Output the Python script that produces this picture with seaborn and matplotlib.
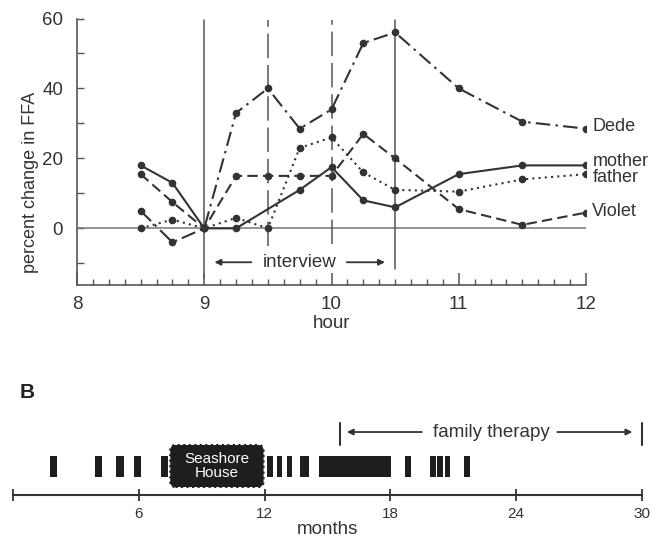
import numpy as np
import pandas as pd
import matplotlib
matplotlib.use("Agg")
import matplotlib.pyplot as plt
import seaborn as sns
from matplotlib.patches import FancyBboxPatch
from matplotlib.ticker import MultipleLocator, FixedLocator

# ---------------- data (panel A) ----------------
hours = [8.5, 8.75, 9.0, 9.25, 9.5, 9.75, 10.0, 10.25, 10.5, 11.0, 11.5, 12.0]
dede = [5, -4, 0, 33, 40, 28.5, 34, 53, 56, 40, 30.5, 28.5]
violet = [15.5, 7.5, 0, 15, 15, 15, 15, 27, 20, 5.5, 1, 4.5]
father = [0, 2.5, 0, 3, 0, 23, 26, 16, 11, 10.5, 14, 15.5]
hours_mother = [8.5, 8.75, 9.0, 9.25, 9.75, 10.0, 10.25, 10.5, 11.0, 11.5, 12.0]
mother = [18, 13, 0, 0, 11, 17.5, 8, 6, 15.5, 18, 18]
label_y = {"Dede": 29, "mother": 19, "father": 14.5, "Violet": 4.8}
interview_start, interview_end = 9.0, 10.5
marker_hours = [9.0, 9.5, 10.0, 10.5]

# ---------------- data (panel B) ----------------
visit_start = [1.75, 3.9, 4.9, 5.75, 7.05, 12.1, 12.6, 13.05, 13.7, 14.6, 18.7, 19.9, 20.22, 20.6, 21.5]
visit_end = [2.1, 4.25, 5.3, 6.1, 7.4, 12.4, 12.85, 13.3, 14.1, 18.05, 19.0, 20.17, 20.5, 20.84, 21.8]
seashore = (7.5, 11.95)
therapy = (15.6, 30.0)
month_ticks = [0, 6, 12, 18, 24, 30]

sns.set_style("white")
plt.rcParams["font.family"] = ["Liberation Sans", "DejaVu Sans"]
ink = "#333333"
gray = "#555555"

fig = plt.figure(figsize=(6.53, 5.37), dpi=100)
W, H = 653, 537
axA = fig.add_axes([77 / W, 1 - 285 / H, (586 - 77) / W, (285 - 18.5) / H])
axB = fig.add_axes([13 / W, 1 - 495 / H, (642 - 13) / W, (495 - 410) / H])

# ---- panel A ----
lw = 1.5
series = [
    ("Dede", hours, dede, (0, (7, 2.5, 1.2, 2.5))),
    ("Violet", hours, violet, (0, (5, 2.5))),
    ("father", hours, father, (0, (1, 2))),
    ("mother", hours_mother, mother, "-"),
]
for name, xs, ys, ls in series:
    df = pd.DataFrame({"hour": xs, "val": ys})
    sns.lineplot(data=df, x="hour", y="val", ax=axA, color=ink, linewidth=lw,
                 linestyle=ls, marker="o", markersize=5.5, markeredgewidth=0,
                 markerfacecolor=ink, sort=False, estimator=None, zorder=3)
    axA.text(12.05, label_y[name], name, fontsize=13, color=ink, va="center", ha="left",
             clip_on=False)

axA.axhline(0, color="#777777", lw=1.1, zorder=1)
vstyles = ["-", (0, (16, 4.5)), (0, (16, 4.5)), "-"]
vbottoms = [-14.3, -5, -4.6, -11.7]
for h, ls, yb in zip(marker_hours, vstyles, vbottoms):
    axA.plot([h, h], [yb, 59.7], color=gray, lw=1.1, linestyle=ls, zorder=2)

y_int = -9.7
axA.text((interview_start + interview_end) / 2 + 0.0, y_int, "interview", fontsize=13.5,
         color=ink, ha="center", va="center")
akw = dict(arrowstyle="-|>", color=ink, lw=1.3, mutation_scale=9, shrinkA=0, shrinkB=0)
axA.annotate("", xy=(interview_start + 0.08, y_int), xytext=(interview_start + 0.37, y_int), arrowprops=akw)
axA.annotate("", xy=(interview_end - 0.08, y_int), xytext=(interview_end - 0.38, y_int), arrowprops=akw)

axA.set_xlim(8, 12)
axA.set_ylim(-16.2, 60)
axA.set_xticks([8, 9, 10, 11, 12])
axA.xaxis.set_minor_locator(MultipleLocator(0.125))
axA.set_yticks([0, 20, 40, 60])
axA.yaxis.set_minor_locator(FixedLocator([-10, 10, 30, 50]))
axA.tick_params(axis="x", which="major", direction="in", length=9, width=1.1, color=gray,
                labelsize=13.5, labelcolor=ink, pad=8, bottom=True)
axA.tick_params(axis="x", which="minor", direction="in", length=4, width=1.0, color=gray, bottom=True)
axA.tick_params(axis="y", which="both", direction="in", length=5, width=1.0, color=gray,
                labelsize=13.5, labelcolor=ink, pad=10, left=True)
for s in ["top", "right"]:
    axA.spines[s].set_visible(False)
for s in ["left", "bottom"]:
    axA.spines[s].set_color(gray)
    axA.spines[s].set_linewidth(1.2)
axA.set_xlabel("hour", fontsize=13.5, color=ink, labelpad=1)
axA.set_ylabel("percent change in FFA", fontsize=13, color=ink, va="center", ha="center")
axA.yaxis.set_label_coords(-0.092, 0.386)

# ---- panel B ----
starts = np.array(visit_start)
ends = np.array(visit_end)
axB.bar(starts, 0.247, width=ends - starts, bottom=0.212, align="edge", color="#1e1e1e",
        edgecolor="none")
box = FancyBboxPatch((seashore[0], 0.094), seashore[1] - seashore[0], 0.494,
                     boxstyle="round,pad=0,rounding_size=0.25", mutation_aspect=0.246,
                     facecolor="#1e1e1e", edgecolor="#1e1e1e", linewidth=1.5, linestyle=":")
axB.add_patch(box)
axB.text(sum(seashore) / 2, 0.34, "Seashore\nHouse", color="white", fontsize=11,
         ha="center", va="center", linespacing=1.0)

for m in therapy:
    axB.plot([m, m], [0.588, 0.847], color=ink, lw=1.5, clip_on=False)
y_th = 0.741
axB.text(22.8, y_th, "family therapy", fontsize=13.5, color=ink, ha="center", va="center")
akw2 = dict(arrowstyle="-|>", color=ink, lw=1.3, mutation_scale=9, shrinkA=0, shrinkB=0)
axB.annotate("", xy=(therapy[0] + 0.32, y_th), xytext=(19.5, y_th), arrowprops=akw2)
axB.annotate("", xy=(therapy[1] - 0.46, y_th), xytext=(25.96, y_th), arrowprops=akw2)

axB.set_xlim(0, 30)
axB.set_ylim(0, 1)
axB.set_xticks(month_ticks)
axB.set_xticklabels(["", "6", "12", "18", "24", "30"])
axB.set_yticks([])
axB.tick_params(axis="x", direction="inout", length=9, width=1.3, color=ink,
                labelsize=11, labelcolor=ink, pad=4, bottom=True)
for s in ["top", "right", "left"]:
    axB.spines[s].set_visible(False)
axB.spines["bottom"].set_color(ink)
axB.spines["bottom"].set_linewidth(1.5)
axB.set_xlabel("months", fontsize=13.5, color=ink, labelpad=0)

fig.text(20 / W, 1 - 393 / H, "B", fontsize=15, fontweight="bold", color="#222222",
         ha="left", va="center")

fig.savefig("out.png", dpi=100, facecolor="white")
